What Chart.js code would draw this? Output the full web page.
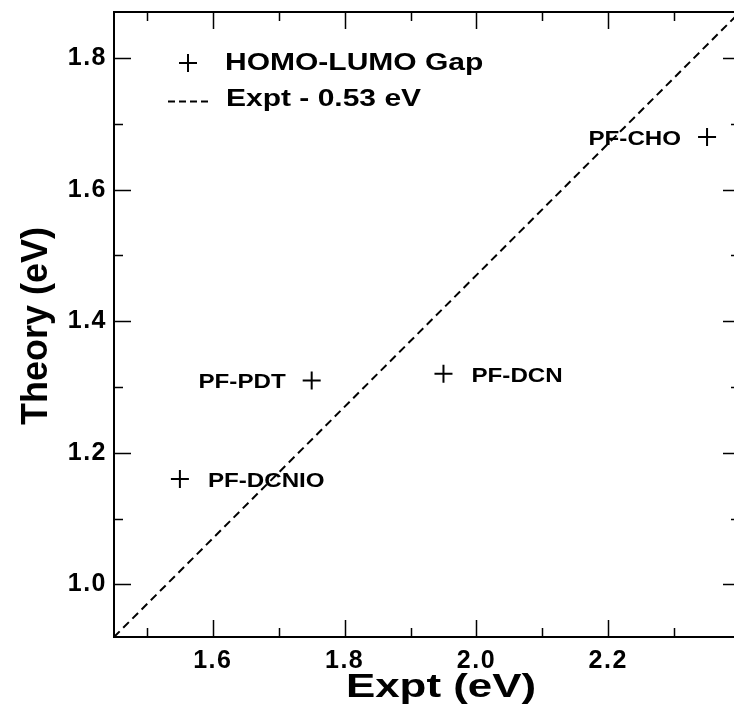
<!DOCTYPE html>
<html>
<head>
<meta charset="utf-8">
<script src="https://cdn.jsdelivr.net/npm/chart.js@4.4.0/dist/chart.umd.min.js"></script>
<style>
  html, body { margin: 0; padding: 0; background: #fff; overflow: hidden; }
  #wrap { width: 734px; height: 714px; overflow: hidden; }
  canvas { display: block; }
</style>
</head>
<body>
<div id="wrap">
  <canvas id="gapchart" width="760" height="714"></canvas>
</div>
<script>
// data
var names = ["PF-CHO", "PF-PDT", "PF-DCN", "PF-DCNIO"];
var exptGap = [2.35, 1.75, 1.95, 1.55];
var theoryGap = [1.68, 1.31, 1.32, 1.16];
var labelSide = ["left", "left", "right", "right"];

// Expt - 0.53 eV reference line (end points)
var lineX = [1.45, 2.40];
var lineY = [0.92, 1.87];

var xTicks = [1.5, 1.6, 1.7, 1.8, 1.9, 2.0, 2.1, 2.2, 2.3];
var xTickLabels = ["", "1.6", "", "1.8", "", "2.0", "", "2.2", ""];
var yTicks = [1.0, 1.1, 1.2, 1.3, 1.4, 1.5, 1.6, 1.7, 1.8];
var yTickLabels = ["1.0", "", "1.2", "", "1.4", "", "1.6", "", "1.8"];

var FONT = "'Liberation Sans', Arial, Helvetica, sans-serif";
Chart.defaults.font.family = FONT;
Chart.defaults.color = "#000";

function drawWide(ctx, text, x, y, size, sx, align) {
  ctx.save();
  ctx.font = "bold " + size + "px " + FONT;
  ctx.fillStyle = "#000";
  ctx.textBaseline = "alphabetic";
  var w = ctx.measureText(text).width * sx;
  var left = x;
  if (align == "center") left = x - w / 2;
  if (align == "right") left = x - w;
  ctx.translate(left, y);
  ctx.scale(sx, 1);
  ctx.textAlign = "left";
  ctx.fillText(text, 0, 0);
  ctx.restore();
}

function drawCross(ctx, x, y, r) {
  ctx.beginPath();
  ctx.moveTo(x - r, y);
  ctx.lineTo(x + r, y);
  ctx.moveTo(x, y - r);
  ctx.lineTo(x, y + r);
  ctx.stroke();
}

var tickSpacing = {
  id: "tickSpacing",
  beforeDraw: function (chart) {
    chart.ctx.letterSpacing = "1.5px";
  },
  afterDatasetsDraw: function (chart) {
    chart.ctx.letterSpacing = "0px";
  }
};

// frame, inward ticks, legend, labels, axis titles
var decorations = {
  id: "decorations",
  afterDraw: function (chart) {
    var ctx = chart.ctx;
    var a = chart.chartArea;
    var xs = chart.scales.x;
    var ys = chart.scales.y;
    ctx.save();
    ctx.letterSpacing = "0px";
    ctx.strokeStyle = "#000";
    ctx.lineWidth = 2;
    ctx.strokeRect(a.left, a.top, a.right - a.left, a.bottom - a.top);

    ctx.beginPath();
    xs.ticks.forEach(function (t, i) {
      var len = xTickLabels[i] ? 17 : 9;
      var px = Math.round(xs.getPixelForValue(t.value)) + 0.5;
      ctx.moveTo(px, a.bottom);
      ctx.lineTo(px, a.bottom - len);
      ctx.moveTo(px, a.top);
      ctx.lineTo(px, a.top + len);
    });
    ys.ticks.forEach(function (t, i) {
      var len = yTickLabels[i] ? 17 : 9;
      var py = Math.round(ys.getPixelForValue(t.value)) + 0.5;
      ctx.moveTo(a.left, py);
      ctx.lineTo(a.left + len, py);
      ctx.moveTo(a.right, py);
      ctx.lineTo(a.right - len, py);
    });
    ctx.lineWidth = 1.5;
    ctx.stroke();

    // point labels
    for (var i = 0; i < names.length; i++) {
      var px = xs.getPixelForValue(exptGap[i]);
      var py = ys.getPixelForValue(theoryGap[i]);
      if (labelSide[i] == "left") {
        drawWide(ctx, names[i], px - 26, py + 8, 21, 1.15, "right");
      } else {
        drawWide(ctx, names[i], px + 28, py + 8, 21, 1.15, "left");
      }
    }

    // legend
    var ds = chart.data.datasets;
    ctx.lineWidth = 2;
    drawCross(ctx, 188, 63, 9);
    drawWide(ctx, ds[0].label, 225, 70, 24, 1.25, "left");
    ctx.setLineDash([7, 4]);
    ctx.beginPath();
    ctx.moveTo(168, 101.5);
    ctx.lineTo(208, 101.5);
    ctx.stroke();
    ctx.setLineDash([]);
    drawWide(ctx, ds[1].label, 226, 106, 24, 1.25, "left");

    // axis titles
    drawWide(ctx, "Expt (eV)", 441, 697, 33, 1.33, "center");
    ctx.save();
    ctx.translate(47, 326);
    ctx.rotate(-Math.PI / 2);
    drawWide(ctx, "Theory (eV)", 0, 0, 36, 1.0, "center");
    ctx.restore();
    ctx.restore();
  }
};

var points = [];
for (var i = 0; i < names.length; i++) {
  points.push({ x: exptGap[i], y: theoryGap[i] });
}
var refLine = [];
for (var j = 0; j < lineX.length; j++) {
  refLine.push({ x: lineX[j], y: lineY[j] });
}

var chart1 = document.getElementById("gapchart");
var myChart1 = new Chart(chart1, {
  type: "scatter",
  data: {
    datasets: [
      {
        label: "HOMO-LUMO Gap",
        data: points,
        pointStyle: "cross",
        pointRadius: 9,
        pointHoverRadius: 9,
        borderColor: "#000",
        backgroundColor: "#000",
        borderWidth: 2,
      },
      {
        label: "Expt - 0.53 eV",
        type: "line",
        data: refLine,
        borderColor: "#000",
        borderWidth: 2,
        borderDash: [8, 5],
        pointRadius: 0,
        fill: false,
      },
    ],
  },
  options: {
    responsive: false,
    animation: false,
    devicePixelRatio: 1,
    layout: { padding: { top: 12, right: 20, left: 0, bottom: 0 } },
    plugins: {
      legend: { display: false },
      tooltip: { enabled: false },
    },
    scales: {
      x: {
        type: "linear",
        min: 1.45,
        max: 2.4,
        grid: { display: false, drawTicks: false },
        border: { display: false },
        afterBuildTicks: function (scale) {
          scale.ticks = xTicks.map(function (v) { return { value: v }; });
        },
        afterFit: function (scale) {
          scale.height = 77;
          scale.paddingLeft = 0;
          scale.paddingRight = 0;
        },
        ticks: {
          autoSkip: false,
          maxRotation: 0,
          padding: 9,
          font: { size: 25, weight: "bold" },
          callback: function (value, index) { return xTickLabels[index]; },
        },
      },
      y: {
        type: "linear",
        min: 0.92,
        max: 1.87,
        grid: { display: false, drawTicks: false },
        border: { display: false },
        afterBuildTicks: function (scale) {
          scale.ticks = yTicks.map(function (v) { return { value: v }; });
        },
        afterFit: function (scale) {
          scale.width = 114;
          scale.paddingTop = 0;
          scale.paddingBottom = 0;
        },
        ticks: {
          autoSkip: false,
          padding: 7,
          font: { size: 25, weight: "bold" },
          callback: function (value, index) { return yTickLabels[index]; },
        },
      },
    },
  },
  plugins: [tickSpacing, decorations],
});
</script>
</body>
</html>
